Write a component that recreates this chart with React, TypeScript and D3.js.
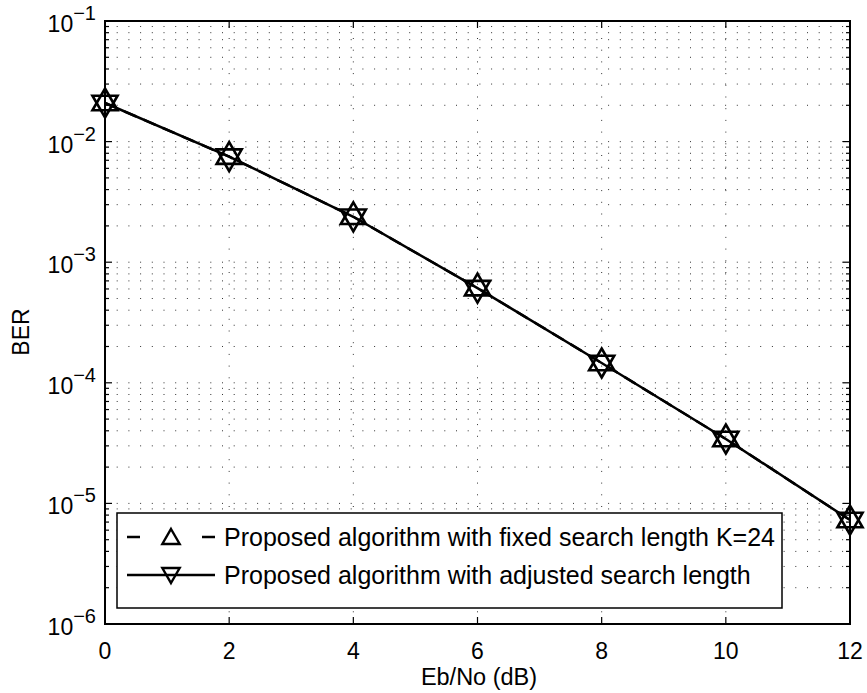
import React from "react";
import * as d3 from "d3";

const ebno = [0, 2, 4, 6, 8, 10, 12];
const berFixed = [0.0209, 0.0075, 0.00238, 0.00061, 0.000146, 0.0000342, 0.00000728];
const berAdjusted = [0.0209, 0.0075, 0.00238, 0.00061, 0.000146, 0.0000342, 0.00000728];
const xTicks = [0, 2, 4, 6, 8, 10, 12];
const yDecades = [-6, -5, -4, -3, -2, -1];
const legendLabels = [
  "Proposed algorithm with fixed search length K=24",
  "Proposed algorithm with adjusted search length",
];

const W = 867, H = 693;
const L = 105, R = 850, T = 21, B = 624;
const FONT = "'Liberation Sans', Arial, Helvetica, sans-serif";

export default function App() {
  const x = d3.scaleLinear().domain([0, 12]).range([L, R]);
  const y = d3.scaleLog().domain([1e-6, 1e-1]).range([B, T]);

  const minorVals: number[] = [];
  for (let e = -6; e < -1; e++) for (let k = 2; k <= 9; k++) minorVals.push(k * Math.pow(10, e));
  const majorVals = yDecades.map((e) => Math.pow(10, e));

  const line = d3
    .line<number>()
    .x((_, i) => x(ebno[i]))
    .y((d) => y(d));

  const tri = (cx: number, cy: number, r: number, up: boolean) => {
    const s = up ? 1 : -1;
    const pts = [
      [cx, cy - s * r],
      [cx + r * 0.866, cy + s * r * 0.5],
      [cx - r * 0.866, cy + s * r * 0.5],
    ];
    return "M" + pts.map((p) => p.join(",")).join("L") + "Z";
  };

  const dot = "1 10.7";
  const lgL = 117, lgT = 513, lgR = 782, lgB = 608;
  const row1 = 537, row2 = 575;

  return (
    <svg width={W} height={H} style={{ position: "absolute", left: 0, top: 0, background: "#fff" }} fontFamily={FONT}>
      <rect x={0} y={0} width={W} height={H} fill="#fff" />
      {/* grid */}
      <g stroke="#000" strokeWidth={1} strokeDasharray={dot} fill="none" opacity={0.8}>
        {xTicks.map((t) => (
          <line key={"gx" + t} x1={x(t)} x2={x(t)} y1={B} y2={T} />
        ))}
        {[...minorVals, ...majorVals].map((v, i) => (
          <line key={"gy" + i} x1={L} x2={R} y1={y(v)} y2={y(v)} />
        ))}
      </g>
      {/* ticks */}
      <g stroke="#000" strokeWidth={1.2}>
        {xTicks.map((t) => (
          <g key={"tx" + t}>
            <line x1={x(t)} x2={x(t)} y1={B} y2={B - 7} />
            <line x1={x(t)} x2={x(t)} y1={T} y2={T + 7} />
          </g>
        ))}
        {majorVals.map((v, i) => (
          <g key={"ty" + i}>
            <line x1={L} x2={L + 7} y1={y(v)} y2={y(v)} />
            <line x1={R} x2={R - 7} y1={y(v)} y2={y(v)} />
          </g>
        ))}
        {minorVals.map((v, i) => (
          <g key={"tm" + i}>
            <line x1={L} x2={L + 4} y1={y(v)} y2={y(v)} />
            <line x1={R} x2={R - 4} y1={y(v)} y2={y(v)} />
          </g>
        ))}
      </g>
      {/* data */}
      <path d={line(berAdjusted) || ""} fill="none" stroke="#000" strokeWidth={2.5} />
      <path d={line(berFixed) || ""} fill="none" stroke="#000" strokeWidth={2.5} strokeDasharray="13 8" />
      {berFixed.map((v, i) => (
        <path key={"mf" + i} d={tri(x(ebno[i]), y(v), 14.5, true)} fill="none" stroke="#000" strokeWidth={2.6} />
      ))}
      {berAdjusted.map((v, i) => (
        <path key={"ma" + i} d={tri(x(ebno[i]), y(v), 14.5, false)} fill="none" stroke="#000" strokeWidth={2.6} />
      ))}
      {/* axes box */}
      <rect x={L} y={T} width={R - L} height={B - T} fill="none" stroke="#000" strokeWidth={2} />
      {/* x tick labels */}
      {xTicks.map((t) => (
        <text key={"lx" + t} x={x(t)} y={659} textAnchor="middle" fontSize={23} fill="#000">
          {t}
        </text>
      ))}
      {/* y tick labels */}
      {yDecades.map((e) => (
        <text key={"ly" + e} x={96} y={y(Math.pow(10, e)) + 11} textAnchor="end" fontSize={23} fill="#000">
          10
          <tspan dy={-12} fontSize={20}>
            {"\u2212" + Math.abs(e)}
          </tspan>
        </text>
      ))}
      <text x={479} y={685} textAnchor="middle" fontSize={23.5} fill="#000">
        Eb/No (dB)
      </text>
      <text transform={`translate(29,332) rotate(-90)`} textAnchor="middle" fontSize={23} fill="#000">
        BER
      </text>
      {/* legend */}
      <rect x={lgL} y={lgT} width={lgR - lgL} height={lgB - lgT} fill="#fff" stroke="#000" strokeWidth={1.5} />
      <line x1={127} x2={215} y1={row1} y2={row1} stroke="#000" strokeWidth={2.5} strokeDasharray="13 62" />
      <path d={tri(171, row1 + 2, 10, true)} fill="none" stroke="#000" strokeWidth={2.4} />
      <text x={224} y={row1 + 9} fontSize={25} fill="#000">
        {legendLabels[0]}
      </text>
      <line x1={127} x2={215} y1={row2} y2={row2} stroke="#000" strokeWidth={2.5} />
      <path d={tri(171, row2 - 2, 10, false)} fill="none" stroke="#000" strokeWidth={2.4} />
      <text x={224} y={row2 + 9} fontSize={25} fill="#000">
        {legendLabels[1]}
      </text>
    </svg>
  );
}
